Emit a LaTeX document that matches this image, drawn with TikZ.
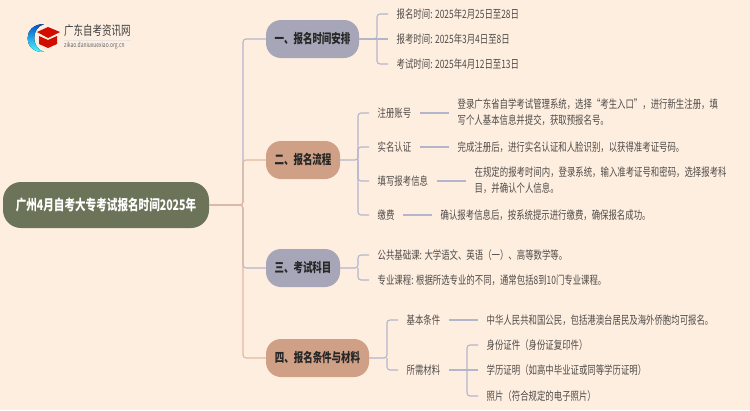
\documentclass[tikz,border=0pt]{standalone}
\usepackage{fontspec}
\setmainfont{Noto Sans CJK SC}[FakeStretch=0.73]
\definecolor{pagebg}{HTML}{FEEEE0}
\definecolor{rootfill}{HTML}{6B7358}
\definecolor{lavfill}{HTML}{A7A6B8}
\definecolor{tanfill}{HTML}{CFA085}
\definecolor{lavline}{HTML}{B4B4CC}
\definecolor{tanline}{HTML}{E2B8A0}
\definecolor{txtgray}{HTML}{4F4B48}
\tikzset{
  rootbox/.style={fill=rootfill,text=white,font=\bfseries\fontsize{14.5}{16}\selectfont,rounded corners=18pt,minimum width=206pt,minimum height=46pt,inner sep=0pt},
  topicbox/.style={text=black!85,font=\bfseries\fontsize{13}{14}\selectfont,rounded corners=15pt,minimum height=38pt,inner sep=0pt},
  leaf/.style={anchor=west,text=txtgray,font=\fontsize{11.5}{16}\selectfont,inner xsep=8.5pt,inner ysep=0pt,text height=8.8pt,text depth=0pt},
  leaftwo/.style={anchor=west,text=txtgray,font=\fontsize{11.5}{16}\selectfont,inner xsep=8.5pt,inner ysep=0pt,align=left},
  lavlink/.style={draw=lavline,line width=1.1pt,rounded corners=3pt},
  tanlink/.style={draw=tanline,line width=1.1pt,rounded corners=3pt}
}
\begin{document}
\begin{tikzpicture}[x=1pt,y=1pt]
\useasboundingbox[fill=pagebg] (0,0) rectangle (750,-410);
% logo
\fill[top color=blue!60!cyan!80!black,bottom color=cyan!70] (44,-24) .. controls (22,-24) and (22,-53) .. (44,-52) .. controls (31,-48) and (31,-28) .. (44,-24);
\fill[red!80!black!90!orange] (37,-32) -- (48,-27) -- (60,-32) -- (48,-38) -- cycle;
\fill[red!80!black!90!orange] (39,-36) -- (48,-40) -- (57,-36) -- (57,-44) -- (48,-48) -- (39,-44) -- cycle;
\node (logotext) at (64,-31) [anchor=west,inner sep=0pt,text=black!75,font=\fontsize{13}{14}\selectfont]{广东自考资讯网};
\node (logosub) at (64,-46) [anchor=west,inner sep=0pt,text=black!60,font=\fontsize{6.8}{7}\selectfont]{zikao.daniuxuexiao.org.cn};
\draw[black!10,line width=0.4pt] (64,-40.5) -- (131,-40.5);
% root and topics
\node (root) at (106,-205) [rootbox]{广州4月自考大专考试报名时间2025年};
\node (one) at (312.5,-39) [topicbox,fill=lavfill,minimum width=93pt]{一、报名时间安排};
\node (two) at (303,-160) [topicbox,fill=tanfill,minimum width=74pt]{二、报名流程};
\node (three) at (303,-268) [topicbox,fill=lavfill,minimum width=74pt]{三、考试科目};
\node (four) at (317.5,-358) [topicbox,fill=tanfill,minimum width=103pt]{四、报名条件与材料};
\coordinate (trunk) at (243,-205);
\draw[lavlink] (root.east) -- (trunk) |- (one.west);
\draw[lavlink] (root.east) -- (trunk) |- (three.west);
\draw[tanlink] (root.east) -- (trunk) |- (two.west);
\draw[tanlink] (root.east) -- (trunk) |- (four.west);
% first topic
\node (a1) at (388,-14) [leaf]{报名时间: 2025年2月25日至28日};
\node (a2) at (388,-39) [leaf]{报考时间: 2025年3月4日至8日};
\node (a3) at (388,-64) [leaf]{考试时间: 2025年4月12日至13日};
\coordinate (ja) at (377,-39);
\draw[lavlink] (one.east) -- (ja) |- (a1.west);
\draw[lavlink] (one.east) -- (a2.west);
\draw[lavlink] (ja) |- (a3.west);
% second topic
\node (b1) at (369,-113) [leaf]{注册账号};
\node (b2) at (369,-147) [leaf]{实名认证};
\node (b3) at (369,-181) [leaf]{填写报考信息};
\node (b4) at (369,-215) [leaf]{缴费};
\node (b1d) at (449,-112) [leaftwo]{登录广东省自学考试管理系统，选择“考生入口”，进行新生注册，填\\写个人基本信息并提交，获取预报名号。};
\node (b2d) at (449,-147) [leaf]{完成注册后，进行实名认证和人脸识别，以获得准考证号码。};
\node (b3d) at (466,-180) [leaftwo]{在规定的报考时间内，登录系统，输入准考证号和密码，选择报考科\\目，并确认个人信息。};
\node (b4d) at (432,-215) [leaf]{确认报考信息后，按系统提示进行缴费，确保报名成功。};
\coordinate (jb) at (358,-160);
\draw[lavlink] (two.east) -- (jb) |- (b1.west);
\draw[lavlink] (jb) |- (b2.west);
\draw[lavlink] (jb) |- (b3.west);
\draw[lavlink] (jb) |- (b4.west);
\draw[lavlink] (b1.east) -- (b1.east -| b1d.west);
\draw[lavlink] (b2.east) -- (b2d.west);
\draw[lavlink] (b3.east) -- (b3.east -| b3d.west);
\draw[lavlink] (b4.east) -- (b4d.west);
% third topic
\node (c1) at (369,-255) [leaf]{公共基础课: 大学语文、英语（一）、高等数学等。};
\node (c2) at (369,-280) [leaf]{专业课程: 根据所选专业的不同，通常包括8到10门专业课程。};
\coordinate (jc) at (358,-268);
\draw[lavlink] (three.east) -- (jc) |- (c1.west);
\draw[lavlink] (jc) |- (c2.west);
% fourth topic
\node (d1) at (398,-320) [leaf]{基本条件};
\node (d2) at (398,-370) [leaf]{所需材料};
\node (d1d) at (478,-320) [leaf]{中华人民共和国公民，包括港澳台居民及海外侨胞均可报名。};
\node (d21) at (478,-345) [leaf]{身份证件（身份证复印件）};
\node (d22) at (478,-370) [leaf]{学历证明（如高中毕业证或同等学历证明）};
\node (d23) at (478,-396) [leaf]{照片（符合规定的电子照片）};
\coordinate (jd) at (387,-358);
\coordinate (je) at (467,-370);
\draw[lavlink] (four.east) -- (jd) |- (d1.west);
\draw[lavlink] (jd) |- (d2.west);
\draw[lavlink] (d1.east) -- (d1d.west);
\draw[lavlink] (d2.east) -- (d22.west);
\draw[lavlink] (je) |- (d21.west);
\draw[lavlink] (je) |- (d23.west);
\end{tikzpicture}
\end{document}
